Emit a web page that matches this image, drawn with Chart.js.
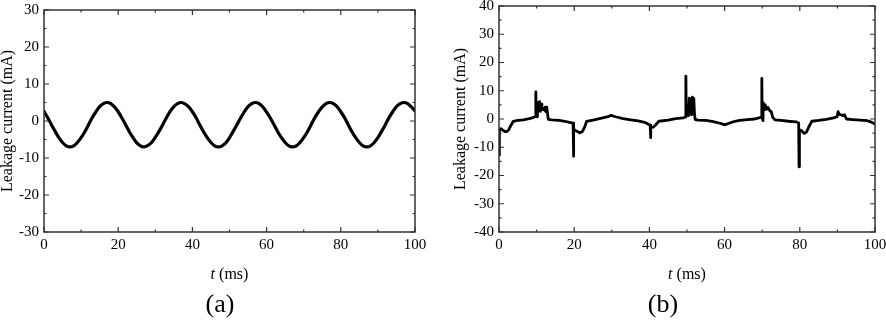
<!DOCTYPE html>
<html>
<head>
<meta charset="utf-8">
<script src="https://cdn.jsdelivr.net/npm/chart.js@4.4.0/dist/chart.umd.min.js"></script>
<style>
  html, body { margin: 0; padding: 0; background: #fff; }
  #wrap { position: relative; width: 886px; height: 324px; overflow: hidden; font-family: "Liberation Serif", "DejaVu Serif", serif; color: #000; }
  .panel { position: absolute; top: 0; width: 443px; height: 324px; }
  .xtitle { position: absolute; top: 264px; font-size: 16px; line-height: 19px; transform: translateX(-50%); white-space: nowrap; }
  .tag { position: absolute; top: 289px; font-size: 26px; line-height: 30px; transform: translateX(-50%); }
</style>
</head>
<body>
<div id="wrap">
  <div class="panel" style="left:0"><canvas id="chartA" width="443" height="324"></canvas></div>
  <div class="panel" style="left:443px"><canvas id="chartB" width="443" height="324"></canvas></div>
  <div class="xtitle" style="left:229.5px"><i>t</i> (ms)</div>
  <div class="xtitle" style="left:687px"><i>t</i> (ms)</div>
  <div class="tag" style="left:220px">(a)</div>
  <div class="tag" style="left:663px">(b)</div>
</div>
<script>
// (a) leakage current, sampled every 1 ms
const timeA = [];
for (let i = 0; i <= 100; i++) timeA.push(i);
const currentA = [
  2.6, 0.9, -1.0, -2.8, -4.5, -5.8, -6.7, -7.0, -6.7, -5.8,
  -4.5, -2.9, -1.0, 0.9, 2.5, 3.9, 4.7, 5.0, 4.7, 3.8,
  2.5, 0.8, -1.0, -2.9, -4.5, -5.9, -6.7, -7.0, -6.6, -5.8,
  -4.4, -2.8, -1.0, 0.9, 2.6, 3.9, 4.7, 5.0, 4.6, 3.8,
  2.5, 0.9, -1.1, -2.9, -4.5, -5.8, -6.7, -7.0, -6.7, -5.9,
  -4.5, -2.8, -1.0, 0.8, 2.5, 3.9, 4.7, 5.0, 4.7, 3.8,
  2.4, 0.8, -1.0, -2.9, -4.5, -5.8, -6.7, -7.0, -6.7, -5.8,
  -4.5, -2.9, -1.0, 0.9, 2.5, 3.8, 4.7, 5.0, 4.7, 3.9,
  2.5, 0.9, -1.0, -2.9, -4.5, -5.8, -6.7, -7.0, -6.7, -5.8,
  -4.5, -2.8, -1.0, 0.9, 2.5, 3.9, 4.7, 5.0, 4.7, 3.8,
  2.7
];

// (b) leakage current with discharge spikes
const timeB = [
  0, 0.1, 0.5, 1.0, 1.6, 2.1, 2.6, 3.2, 3.8, 5, 6.5, 8, 9.1, 9.7, 9.8, 9.9,
  10.0, 10.2, 10.4, 10.6, 10.8, 11.0, 11.2, 11.4, 11.8, 12.1, 12.3, 12.5, 12.7, 12.9,
  13.1, 14, 16, 17.5, 19, 19.7, 19.8, 19.9, 20.5, 21.5, 22.2, 22.8, 23.3, 25, 27, 29,
  29.8, 31, 33, 35, 37, 39, 40.2, 40.3, 40.4, 41, 41.6, 42.5, 45, 47, 49, 49.6,
  49.7, 49.8, 50.1, 50.4, 50.6, 50.8, 51.0, 51.2, 51.4, 51.6, 51.8, 52.0, 52.2, 53,
  55, 57, 59, 60, 61, 62.5, 64, 66, 68, 69.4, 69.8, 69.9, 70.0, 70.2, 70.3, 70.5,
  70.8, 71.1, 71.5, 72.0, 72.4, 72.8, 73.4, 75, 77, 79, 79.7, 79.8, 79.9, 80.4,
  81.2, 81.8, 82.5, 83.2, 85, 87, 89, 89.9, 90.2, 90.5, 91.0, 91.5, 91.9, 92.4,
  94, 96, 98, 99, 100
];
const currentB = [
  -12.8, -4.0, -3.4, -3.9, -4.5, -4.4, -3.8, -2.2, -0.8, -0.5, -0.3, 0.1, 0.5, 0.9, 9.6, 1.2,
  2.8, 0.8, 5.9, 3.0, 6.1, 2.7, 5.3, 3.3, 3.7, 3.1, 4.2, 2.6, 4.2, 2.0,
  -0.1, -0.3, -0.5, -0.8, -1.3, -1.5, -13.2, -3.6, -4.2, -4.9, -4.4, -2.8, -0.8, -0.4, 0.2, 0.8,
  1.3, 0.8, 0.1, -0.3, -0.7, -1.3, -2.2, -6.6, -3.0, -2.9, -2.2, -0.8, -0.4, 0.1, 0.4, 0.7,
  15.2, 1.0, 2.5, 1.2, 7.4, 2.2, 6.8, 1.5, 7.7, 2.0, 7.3, 1.6, -0.2, -0.4,
  -0.5, -0.9, -1.6, -2.1, -1.6, -0.9, -0.5, -0.2, 0.0, 0.5, 0.7, 14.4, 0.5, -0.6, 5.7, 3.2,
  5.0, 3.4, 4.1, 3.0, 2.6, 0.6, -0.3, -0.5, -0.8, -1.0, -1.4, -16.9, -3.8, -4.1,
  -5.1, -4.6, -2.5, -0.8, -0.5, -0.1, 0.4, 0.8, 2.6, 1.6, 1.5, 1.2, 1.5, 0.0,
  -0.2, -0.4, -0.6, -1.1, -1.8
];

const xTicks = [0, 20, 40, 60, 80, 100];
const yTicksA = [-30, -20, -10, 0, 10, 20, 30];
const yTicksB = [-40, -30, -20, -10, 0, 10, 20, 30, 40];

const serif = "'Liberation Serif', 'DejaVu Serif', serif";

// box frame with inward major/minor ticks on all four sides
const frameTicks = {
  id: 'frameTicks',
  afterDatasetsDraw(chart) {
    const { ctx, chartArea: a, scales: { x, y } } = chart;
    const major = 5, minor = 2.5;
    ctx.save();
    ctx.strokeStyle = '#333';
    ctx.lineWidth = 1.2;
    ctx.beginPath();
    const xv = x.ticks.map(t => t.value);
    xv.forEach((v, i) => {
      const px = x.getPixelForValue(v);
      ctx.moveTo(px, a.bottom); ctx.lineTo(px, a.bottom - major);
      ctx.moveTo(px, a.top); ctx.lineTo(px, a.top + major);
      if (i < xv.length - 1) {
        const mx = x.getPixelForValue((v + xv[i + 1]) / 2);
        ctx.moveTo(mx, a.bottom); ctx.lineTo(mx, a.bottom - minor);
        ctx.moveTo(mx, a.top); ctx.lineTo(mx, a.top + minor);
      }
    });
    const yv = y.ticks.map(t => t.value);
    yv.forEach((v, i) => {
      const py = y.getPixelForValue(v);
      ctx.moveTo(a.left, py); ctx.lineTo(a.left + major, py);
      ctx.moveTo(a.right, py); ctx.lineTo(a.right - major, py);
      if (i < yv.length - 1) {
        const my = y.getPixelForValue((v + yv[i + 1]) / 2);
        ctx.moveTo(a.left, my); ctx.lineTo(a.left + minor, my);
        ctx.moveTo(a.right, my); ctx.lineTo(a.right - minor, my);
      }
    });
    ctx.stroke();
    ctx.lineWidth = 1.5;
    ctx.strokeRect(a.left, a.top, a.right - a.left, a.bottom - a.top);
    ctx.restore();
  }
};

function makeChart(id, xs, ys, yTicks, opt) {
  return new Chart(document.getElementById(id), {
    type: 'line',
    data: {
      datasets: [{
        data: xs.map((t, i) => ({ x: t, y: ys[i] })),
        borderColor: '#000',
        borderWidth: opt.lineWidth,
        pointRadius: 0,
        tension: opt.tension,
        borderJoinStyle: 'round',
        borderCapStyle: 'round'
      }]
    },
    options: {
      responsive: false,
      animation: false,
      layout: { padding: { top: opt.top, right: opt.right, bottom: 0, left: 0 } },
      plugins: { legend: { display: false }, tooltip: { enabled: false } },
      scales: {
        x: {
          type: 'linear',
          min: 0, max: 100,
          afterBuildTicks: s => { s.ticks = xTicks.map(v => ({ value: v })); },
          afterFit: s => { s.height = 92; s.paddingLeft = 0; s.paddingRight = 0; },
          grid: { display: false, drawTicks: false },
          border: { display: false },
          ticks: { color: '#000', padding: 4, maxRotation: 0, font: { family: serif, size: 15 } }
        },
        y: {
          min: yTicks[0], max: yTicks[yTicks.length - 1],
          afterBuildTicks: s => { s.ticks = yTicks.map(v => ({ value: v })); },
          afterFit: s => { s.width = opt.yWidth; s.paddingTop = 0; s.paddingBottom = 0; },
          grid: { display: false, drawTicks: false },
          border: { display: false },
          ticks: { color: '#000', padding: 5, font: { family: serif, size: 15 } },
          title: {
            display: true,
            text: 'Leakage current (mA)',
            color: '#000',
            padding: { top: opt.titlePad, bottom: 0 },
            font: { family: serif, size: 16, lineHeight: 1 }
          }
        }
      }
    },
    plugins: [frameTicks]
  });
}

makeChart('chartA', timeA, currentA, yTicksA, { top: 10, right: 28, yWidth: 44, titlePad: 0, lineWidth: 3.2, tension: 0.3 });
makeChart('chartB', timeB, currentB, yTicksB, { top: 6, right: 11, yWidth: 56, titlePad: 10, lineWidth: 2.8, tension: 0 });
</script>
</body>
</html>
